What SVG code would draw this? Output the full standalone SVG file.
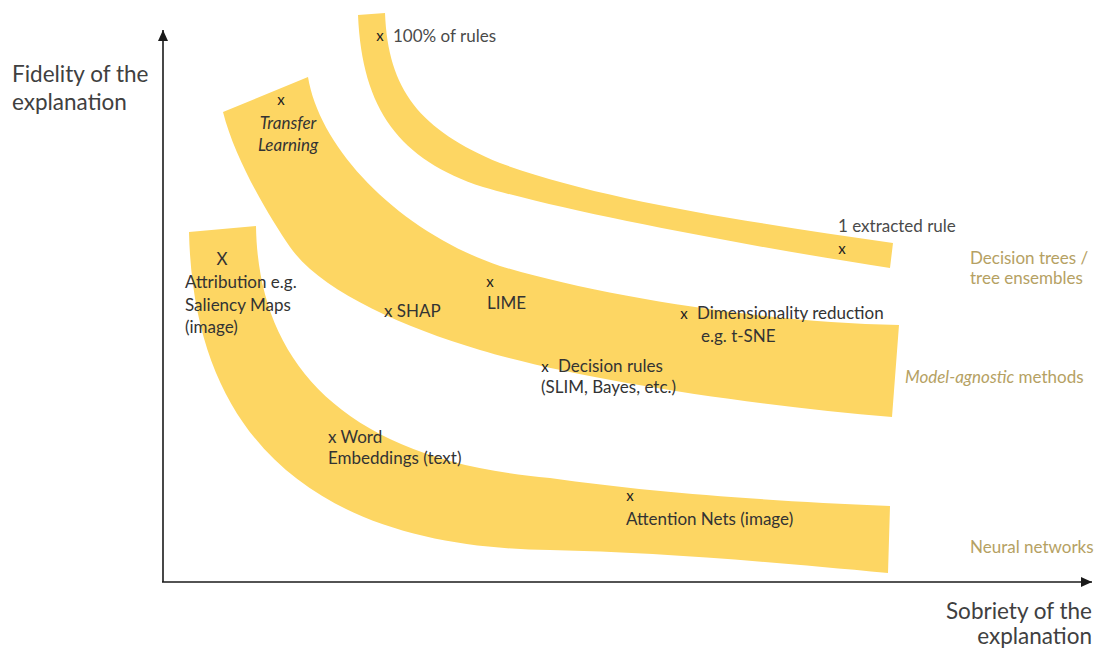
<svg xmlns="http://www.w3.org/2000/svg" width="1097" height="652" viewBox="0 0 1097 652">
<style>
.band{fill:#FDD663;stroke:none}
.lbl{font-family:Lato,"Open Sans","Liberation Sans",sans-serif;font-size:17px;fill:#333333}
.lblw{font-family:Lato,"Open Sans","Liberation Sans",sans-serif;font-size:17px;fill:#4a4a4a}
.mk{font-family:Lato,"Open Sans","Liberation Sans",sans-serif;font-size:15px;fill:#222222}
.it{font-style:italic}
.cat{font-family:Lato,"Open Sans","Liberation Sans",sans-serif;font-size:17px;fill:#B5A163}
.axl{font-family:Lato,"Open Sans","Liberation Sans",sans-serif;font-size:22.5px;fill:#404040}
.axis{stroke:#1a1a1a;stroke-width:1.6;fill:none}
</style>
<defs>
<marker id="arr" markerUnits="userSpaceOnUse" markerWidth="14" markerHeight="14" refX="11" refY="6" orient="auto">
<path d="M0,1 L11,6 L0,11 Z" fill="#1a1a1a"/>
</marker>
</defs>
<rect width="1097" height="652" fill="#ffffff"/>

<g id="band-decision-trees">
<path class="band" d="M358,15 L385,13 C388,90 420,130 500,163 C600,200 750,222 893,243 L890,268 C760,248 580,215 483,187 C400,160 362,110 358,15 Z"/>
<text class="mk" x="380" y="41" text-anchor="middle">x</text>
<text class="lblw" x="393" y="42">100% of rules</text>
<text class="lblw" x="838" y="232">1 extracted rule</text>
<text class="mk" x="842" y="254" text-anchor="middle">x</text>
</g>

<g id="band-model-agnostic">
<path class="band" d="M223,112 L308,77 C320,150 400,232 500,266 C600,296 760,322 899,325 L892,417 C750,405 580,380 480,350 C400,326 320,290 290,247 C270,218 235,160 223,112 Z"/>
<text class="mk" x="281" y="105" text-anchor="middle">x</text>
<text class="lbl it" x="288" y="129" text-anchor="middle">Transfer</text>
<text class="lbl it" x="288" y="151" text-anchor="middle">Learning</text>
<text class="lbl" x="384" y="317">x SHAP</text>
<text class="mk" x="490" y="287" text-anchor="middle">x</text>
<text class="lbl" x="487" y="309">LIME</text>
<text class="mk" x="684" y="319" text-anchor="middle">x</text>
<text class="lbl" x="697" y="319">Dimensionality reduction</text>
<text class="lbl" x="701" y="342">e.g. t-SNE</text>
<text class="mk" x="545" y="372" text-anchor="middle">x</text>
<text class="lbl" x="558" y="372">Decision rules</text>
<text class="lbl" x="541" y="393">(SLIM, Bayes, etc.)</text>
</g>

<g id="band-neural-networks">
<path class="band" d="M189,232 L256,226 C258,360 340,460 550,478 C650,492 750,500 890,506 L888,573 C750,560 650,552 550,550 C380,548 195,490 189,232 Z"/>
<text class="lbl" x="222" y="265" text-anchor="middle">X</text>
<text class="lbl" x="185" y="288">Attribution e.g.</text>
<text class="lbl" x="185" y="311">Saliency Maps</text>
<text class="lbl" x="185" y="333">(image)</text>
<text class="lbl" x="328" y="443">x Word</text>
<text class="lbl" x="328" y="464">Embeddings (text)</text>
<text class="mk" x="630" y="501" text-anchor="middle">x</text>
<text class="lbl" x="626" y="525">Attention Nets (image)</text>
</g>

<g id="category-labels">
<text class="cat" x="970" y="264">Decision trees /</text>
<text class="cat" x="970" y="284">tree ensembles</text>
<text class="cat" x="905" y="383"><tspan class="it">Model-agnostic</tspan> methods</text>
<text class="cat" x="970" y="553">Neural networks</text>
</g>

<g id="axes">
<line class="axis" x1="163" y1="582" x2="163" y2="30" marker-end="url(#arr)"/>
<line class="axis" x1="162" y1="582" x2="1092" y2="582" marker-end="url(#arr)"/>
</g>

<g id="axis-labels">
<text class="axl" x="12" y="82">Fidelity of the</text>
<text class="axl" x="12" y="110">explanation</text>
<text class="axl" x="1092" y="619" text-anchor="end">Sobriety of the</text>
<text class="axl" x="1092" y="644" text-anchor="end">explanation</text>
</g>
</svg>
